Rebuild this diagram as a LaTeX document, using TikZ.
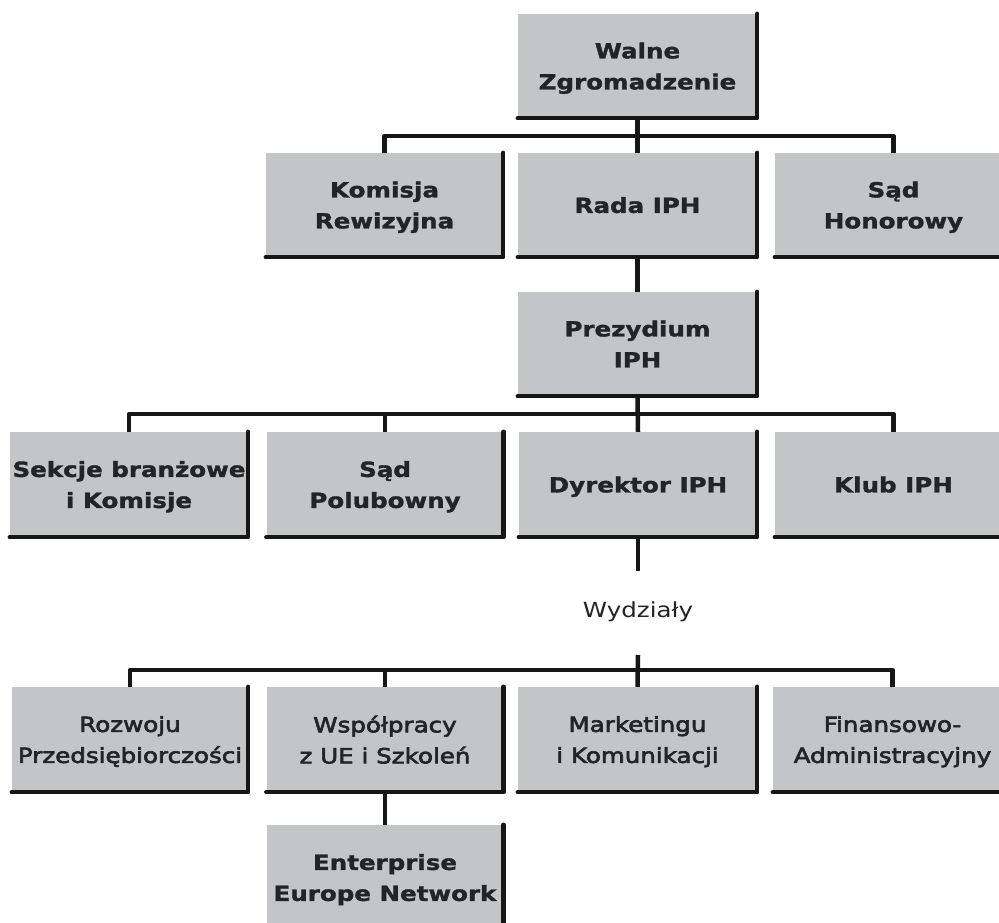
\documentclass[tikz,border=0pt]{standalone}
\usepackage{fontspec}
\setmainfont{DejaVu Sans}[FakeStretch=1.18]
\newfontfamily\medfont{DejaVu Sans}[FakeStretch=1.18,FakeBold=3]
\newfontfamily\boldfont{DejaVu Sans Bold}[FakeStretch=1.18,FakeBold=1.5]
\definecolor{boxgray}{RGB}{196,197,200}
\definecolor{ink}{RGB}{36,36,38}
\definecolor{linec}{RGB}{22,22,24}
\begin{document}
\begin{tikzpicture}[x=1pt,y=-1pt,
  orgbox/.style={fill=boxgray,inner sep=0pt,minimum width=237pt,minimum height=104pt,
    align=center,text=ink,font=\fontsize{20.8}{31}\boldfont,text depth=0pt},
  lowbox/.style={orgbox,font=\fontsize{20.8}{31}\medfont},
  shadowline/.style={draw=linec,line width=4.5pt,line cap=round,line join=round},
  conn/.style={draw=linec,line width=4.5pt,line join=round}]
\fill[white] (0,0) rectangle (999,922);
\clip (0,0) rectangle (999,922);
% row 1
\node[orgbox,minimum width=239pt] (walne) at (637.5,66) {Walne\\Zgromadzenie};
% row 2
\node[orgbox] (komisja) at (384.5,205) {Komisja\\Rewizyjna};
\node[orgbox,minimum width=239pt] (rada) at (637.5,205) {Rada IPH};
\node[orgbox] (sadh) at (893.5,205) {Sąd\\Honorowy};
% row 3
\node[orgbox,minimum width=239pt] (prez) at (637.5,344) {Prezydium\\IPH};
% row 4
\node[orgbox,minimum width=238pt,minimum height=105pt] (sekcje) at (129,484.5) {Sekcje branżowe\\i Komisje};
\node[orgbox,minimum height=105pt] (polub) at (385,484.5) {Sąd\\Polubowny};
\node[orgbox,minimum width=238pt,minimum height=105pt] (dyr) at (638,484.5) {Dyrektor IPH};
\node[orgbox,minimum height=105pt] (klub) at (893.5,484.5) {Klub IPH};
% label
\node[text=ink,font=\fontsize{20.8}{31}\selectfont,inner sep=0pt] (wydz) at (638,612) {Wydziały};
\coordinate (d1) at (638,571);
\coordinate (w2) at (638,655);
% row 5
\node[lowbox,minimum width=236pt,minimum height=105pt] (rozw) at (130,739.5) {Rozwoju\\Przedsiębiorczości};
\node[lowbox,minimum height=105pt] (wsp) at (385,739.5) {Współpracy\\z UE i Szkoleń};
\node[lowbox,minimum width=239pt,minimum height=105pt] (mark) at (637.5,739.5) {Marketingu\\i Komunikacji};
\node[lowbox,minimum width=239pt,minimum height=105pt] (fin) at (892.5,739.5) {Finansowo-\\Administracyjny};
% row 6
\node[orgbox,minimum height=105pt] (een) at (385,877.5) {Enterprise\\Europe Network};
% box shadows (right and bottom edges)
\foreach \n in {walne,komisja,rada,sadh,prez,sekcje,polub,dyr,klub,rozw,wsp,mark,fin,een}
  \draw[shadowline] (\n.south west) -- (\n.south east) -- (\n.north east);
% connectors
\coordinate (b1) at (637.5,136);
\coordinate (b2) at (638,414);
\coordinate (b3) at (638,670);
\draw[conn] (walne.south) -- (rada.north);
\draw[conn] (komisja.north) |- (b1) -| (sadh.north);
\draw[conn] (rada.south) -- (prez.north);
\draw[conn] (prez.south) -- (dyr.north);
\draw[conn] (sekcje.north) |- (b2) -| (klub.north);
\draw[conn] (polub.north) |- (b2);
\draw[conn] (dyr.south) -- (d1);
\draw[conn] (w2) -- (mark.north);
\draw[conn] (rozw.north) |- (b3) -| (fin.north);
\draw[conn] (wsp.north) |- (b3);
\draw[conn] (wsp.south) -- (een.north);
\end{tikzpicture}
\end{document}
